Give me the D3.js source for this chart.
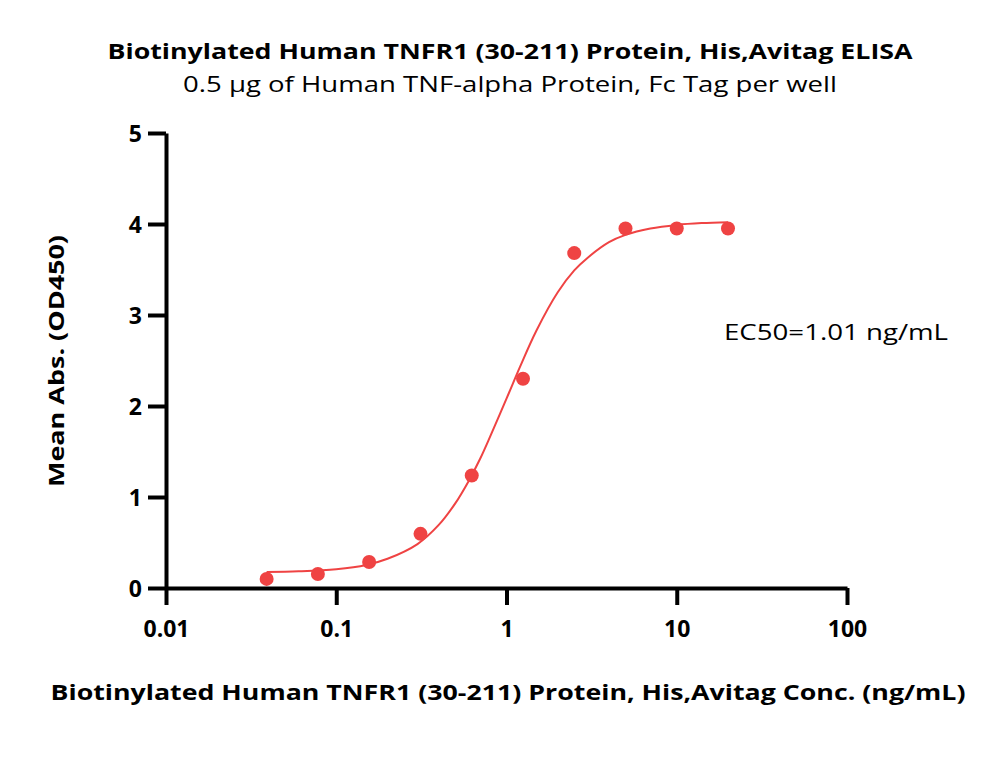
<!DOCTYPE html>
<html lang="en">
<head>
  <meta charset="UTF-8" />
  <title>TNFR1 ELISA</title>
  <script src="https://d3js.org/d3.v7.min.js"></script>
  <style>
    body { margin: 0; background: #fff; }
    svg text { font-family: "Open Sans", "Noto Sans", sans-serif; fill: #000; }
  </style>
</head>
<body>
  <svg id="chart" width="1000" height="781"></svg>

  <script>
    // measured points (ng/mL vs OD450)
    const conc = [0.039, 0.078, 0.156, 0.3125, 0.625, 1.25, 2.5, 5, 10, 20];
    const od450 = [0.10, 0.154, 0.286, 0.595, 1.237, 2.30, 3.68, 3.95, 3.95, 3.95];

    // fitted curve
    const fitConc = [0.039, 0.06, 0.1, 0.15, 0.2, 0.3, 0.4, 0.5, 0.6, 0.7, 0.8, 1.0, 1.2, 1.5, 2, 2.5, 3, 4, 5, 7, 10, 14, 20];
    const fitOD = [0.176, 0.184, 0.207, 0.253, 0.321, 0.483, 0.693, 0.93, 1.177, 1.42, 1.66, 2.08, 2.43, 2.83, 3.25, 3.49, 3.63, 3.80, 3.88, 3.95, 3.99, 4.01, 4.02];

    const xTicks = [0.01, 0.1, 1, 10, 100];
    const xTickLabels = ["0.01", "0.1", "1", "10", "100"];
    const yTicks = [0, 1, 2, 3, 4, 5];

    const red = "#ef4343";
    const margin = { top: 133, left: 166 },
          width = 681,
          height = 455;

    const svg = d3.select("#chart");
    const g = svg.append("g").attr("transform", `translate(${margin.left},${margin.top})`);

    const x = d3.scaleLog().domain([0.01, 100]).range([0, width]);
    const y = d3.scaleLinear().domain([0, 5]).range([height, 0]);

    // Axes
    const xAxis = g.append("g")
      .attr("transform", `translate(0,${height})`)
      .call(d3.axisBottom(x).tickValues(xTicks).tickSize(17).tickSizeOuter(0).tickPadding(16)
        .tickFormat((d, i) => xTickLabels[i]));

    const yAxis = g.append("g")
      .call(d3.axisLeft(y).tickValues(yTicks).tickSize(18).tickSizeOuter(0).tickPadding(6)
        .tickFormat(d3.format("d")));

    [xAxis, yAxis].forEach(a => {
      a.selectAll("path, line").attr("stroke", "#000").attr("stroke-width", 4);
      a.selectAll("text")
        .style("font-size", "23px")
        .style("font-weight", "bold")
        .attr("fill", "#000");
    });
    yAxis.selectAll("text").attr("dy", "0.36em");

    // Fit curve
    const line = d3.line()
      .x((d, i) => x(fitConc[i]))
      .y(d => y(d))
      .curve(d3.curveCatmullRom.alpha(0.5));

    g.append("path")
      .datum(fitOD)
      .attr("fill", "none")
      .attr("stroke", red)
      .attr("stroke-width", 2)
      .attr("d", line);

    // Points
    g.selectAll("circle")
      .data(od450)
      .join("circle")
      .attr("cx", (d, i) => x(conc[i]))
      .attr("cy", d => y(d))
      .attr("r", 7)
      .attr("fill", red);

    // Titles
    svg.append("text")
      .attr("x", 510).attr("y", 59)
      .attr("text-anchor", "middle")
      .attr("textLength", 805).attr("lengthAdjust", "spacingAndGlyphs")
      .style("font-size", "21px").style("font-weight", "bold")
      .text("Biotinylated Human TNFR1 (30-211) Protein, His,Avitag ELISA");

    svg.append("text")
      .attr("x", 510).attr("y", 92)
      .attr("text-anchor", "middle")
      .attr("textLength", 654).attr("lengthAdjust", "spacingAndGlyphs")
      .style("font-size", "21px")
      .text("0.5 µg of Human TNF-alpha Protein, Fc Tag per well");

    svg.append("text")
      .attr("x", 508).attr("y", 700)
      .attr("text-anchor", "middle")
      .attr("textLength", 915).attr("lengthAdjust", "spacingAndGlyphs")
      .style("font-size", "22px").style("font-weight", "bold")
      .text("Biotinylated Human TNFR1 (30-211) Protein, His,Avitag Conc. (ng/mL)");

    svg.append("text")
      .attr("transform", "translate(64,361) rotate(-90)")
      .attr("text-anchor", "middle")
      .attr("textLength", 252).attr("lengthAdjust", "spacingAndGlyphs")
      .style("font-size", "22px").style("font-weight", "bold")
      .text("Mean Abs. (OD450)");

    svg.append("text")
      .attr("x", 724).attr("y", 340)
      .attr("textLength", 224).attr("lengthAdjust", "spacingAndGlyphs")
      .style("font-size", "22px")
      .text("EC50=1.01 ng/mL");
  </script>
</body>
</html>
